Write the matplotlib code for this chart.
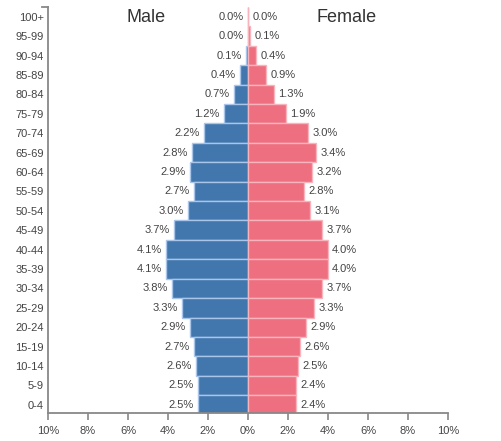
import matplotlib
matplotlib.use("Agg")
import matplotlib.pyplot as plt
import numpy as np

# age groups from top to bottom, as in the picture
age_groups = ["100+", "95-99", "90-94", "85-89", "80-84", "75-79", "70-74",
              "65-69", "60-64", "55-59", "50-54", "45-49", "40-44", "35-39",
              "30-34", "25-29", "20-24", "15-19", "10-14", "5-9", "0-4"]
male = [0.0, 0.0, 0.1, 0.4, 0.7, 1.2, 2.2, 2.8, 2.9, 2.7, 3.0, 3.7, 4.1, 4.1,
        3.8, 3.3, 2.9, 2.7, 2.6, 2.5, 2.5]
female = [0.0, 0.1, 0.4, 0.9, 1.3, 1.9, 3.0, 3.4, 3.2, 2.8, 3.1, 3.7, 4.0, 4.0,
          3.7, 3.3, 2.9, 2.6, 2.5, 2.4, 2.4]
x_ticks = [-10, -8, -6, -4, -2, 0, 2, 4, 6, 8, 10]

plt.rcParams['font.family'] = ['Liberation Sans', 'DejaVu Sans']

fig = plt.figure(figsize=(5.02, 4.41), dpi=100)
ax = fig.add_axes([48 / 502, 28 / 441, 400 / 502, 406 / 441])

# bottom row (0-4) at y=0
ypos = np.arange(len(age_groups))[::-1]

ax.barh(ypos, [-m for m in male], height=1.0, color="#4277ae",
        edgecolor="#a9c6ea", linewidth=1.0)
ax.barh(ypos, female, height=1.0, color="#ee6f7f",
        edgecolor="#f8b4bc", linewidth=1.0)

# value labels next to the bars
for y, m, f in zip(ypos, male, female):
    ax.annotate("%.1f%%" % m, (-m, y), xytext=(-3, 0), textcoords="offset points",
                ha="right", va="center", fontsize=8, color="#444444")
    ax.annotate("%.1f%%" % f, (f, y), xytext=(3, 0), textcoords="offset points",
                ha="left", va="center", fontsize=8, color="#444444")

ax.set_xlim(-10, 10)
ax.set_ylim(-0.42, 20.5)

ax.set_xticks(x_ticks)
ax.set_xticklabels(["%d%%" % abs(t) for t in x_ticks])
ax.set_yticks(ypos)
ax.set_yticklabels(age_groups)

for s in ["top", "right"]:
    ax.spines[s].set_visible(False)
for s in ["left", "bottom"]:
    ax.spines[s].set_color("#888888")
    ax.spines[s].set_linewidth(1.3)

ax.tick_params(axis="x", length=5, width=1.2, color="#888888",
               labelsize=8, labelcolor="#444444", pad=4)
ax.tick_params(axis="y", length=0, labelsize=8, labelcolor="#444444", pad=3)

# outer tick at the top of the y axis
ax.plot([-10.3, -10], [20.5, 20.5], color="#888888", lw=1.3, clip_on=False)

ax.text(-5.1, 19.95, "Male", ha="center", va="center", fontsize=13, color="#333333")
ax.text(4.95, 19.95, "Female", ha="center", va="center", fontsize=13, color="#333333")

fig.savefig("out.png", dpi=100)
